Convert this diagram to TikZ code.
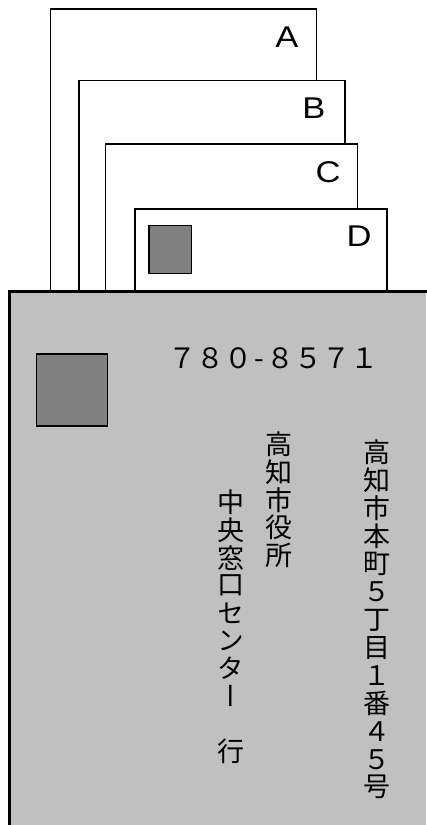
\documentclass[tikz,border=0pt]{standalone}
\usepackage{fontspec}
\newfontfamily\cjk{Noto Sans CJK JP}
\newfontfamily\cjkv[RawFeature=+vert]{Noto Sans CJK JP}
\newfontfamily\lat{Liberation Sans}
\definecolor{envgray}{RGB}{192,192,192}
\definecolor{stampgray}{RGB}{128,128,128}
\newcommand{\wideletter}[1]{\scalebox{1.15}[1]{#1}}
\begin{document}
\begin{tikzpicture}[x=1pt,y=-1pt,
  card/.style={draw=black, fill=white, line width=1.5pt},
  stampbox/.style={draw=black, fill=stampgray, line width=1.5pt},
  envline/.style={draw=black, line width=2.5pt},
  lettr/.style={font=\lat\fontsize{30}{30}\selectfont, inner sep=0pt, anchor=center},
  vch/.style={font=\cjkv\fontsize{27}{27}\selectfont, inner sep=0pt, anchor=center},
  zip/.style={font=\cjk\fontsize{28}{28}\selectfont, inner sep=0pt, anchor=base west}]
\useasboundingbox (0,0) rectangle (426,825);
% cards
\filldraw[card] (50.7,291) -- (50.7,9) -- (316.7,9) -- (316.7,291);
\node[lettr] (lA) at (287,37) {\wideletter{A}};
\filldraw[card] (79,291) -- (79,80.7) -- (345,80.7) -- (345,291);
\node[lettr] (lB) at (314,108.5) {\wideletter{B}};
\filldraw[card] (105.3,291) -- (105.3,144) -- (357.3,144) -- (357.3,291);
\node[lettr] (lC) at (328,172.5) {\wideletter{C}};
\filldraw[card] (135,291) -- (135,209) -- (387,209) -- (387,291);
\node[lettr] (lD) at (359,236) {\wideletter{D}};
\draw[stampbox] (149,225.3) rectangle (191.3,273.3);
% envelope
\fill[envgray] (9.7,291.7) rectangle (426,825);
\draw[envline] (9.7,826) -- (9.7,291.7) -- (427,291.7);
\draw[stampbox] (36.7,354) rectangle (107.3,426);
\node[zip] (zipcode) at (168,368) {７８０\makebox[14pt]{-}８５７１};
% address columns
\foreach \ch [count=\i from 0] in {高,知,市,本,町,５,丁,目,１,番,４,５,号}
  \node[vch] (ra-\i) at (376.5,452.5+27.9*\i) {\ch};
\foreach \ch [count=\i from 0] in {高,知,市,役,所}
  \node[vch] (rb-\i) at (278.5,444.5+27.75*\i) {\ch};
\foreach \ch [count=\i from 0] in {中,央,窓,口,セ,ン,タ,ー,　,行}
  \node[vch] (rc-\i) at (230.5,502.5+27.6*\i) {\ch};
\end{tikzpicture}
\end{document}
